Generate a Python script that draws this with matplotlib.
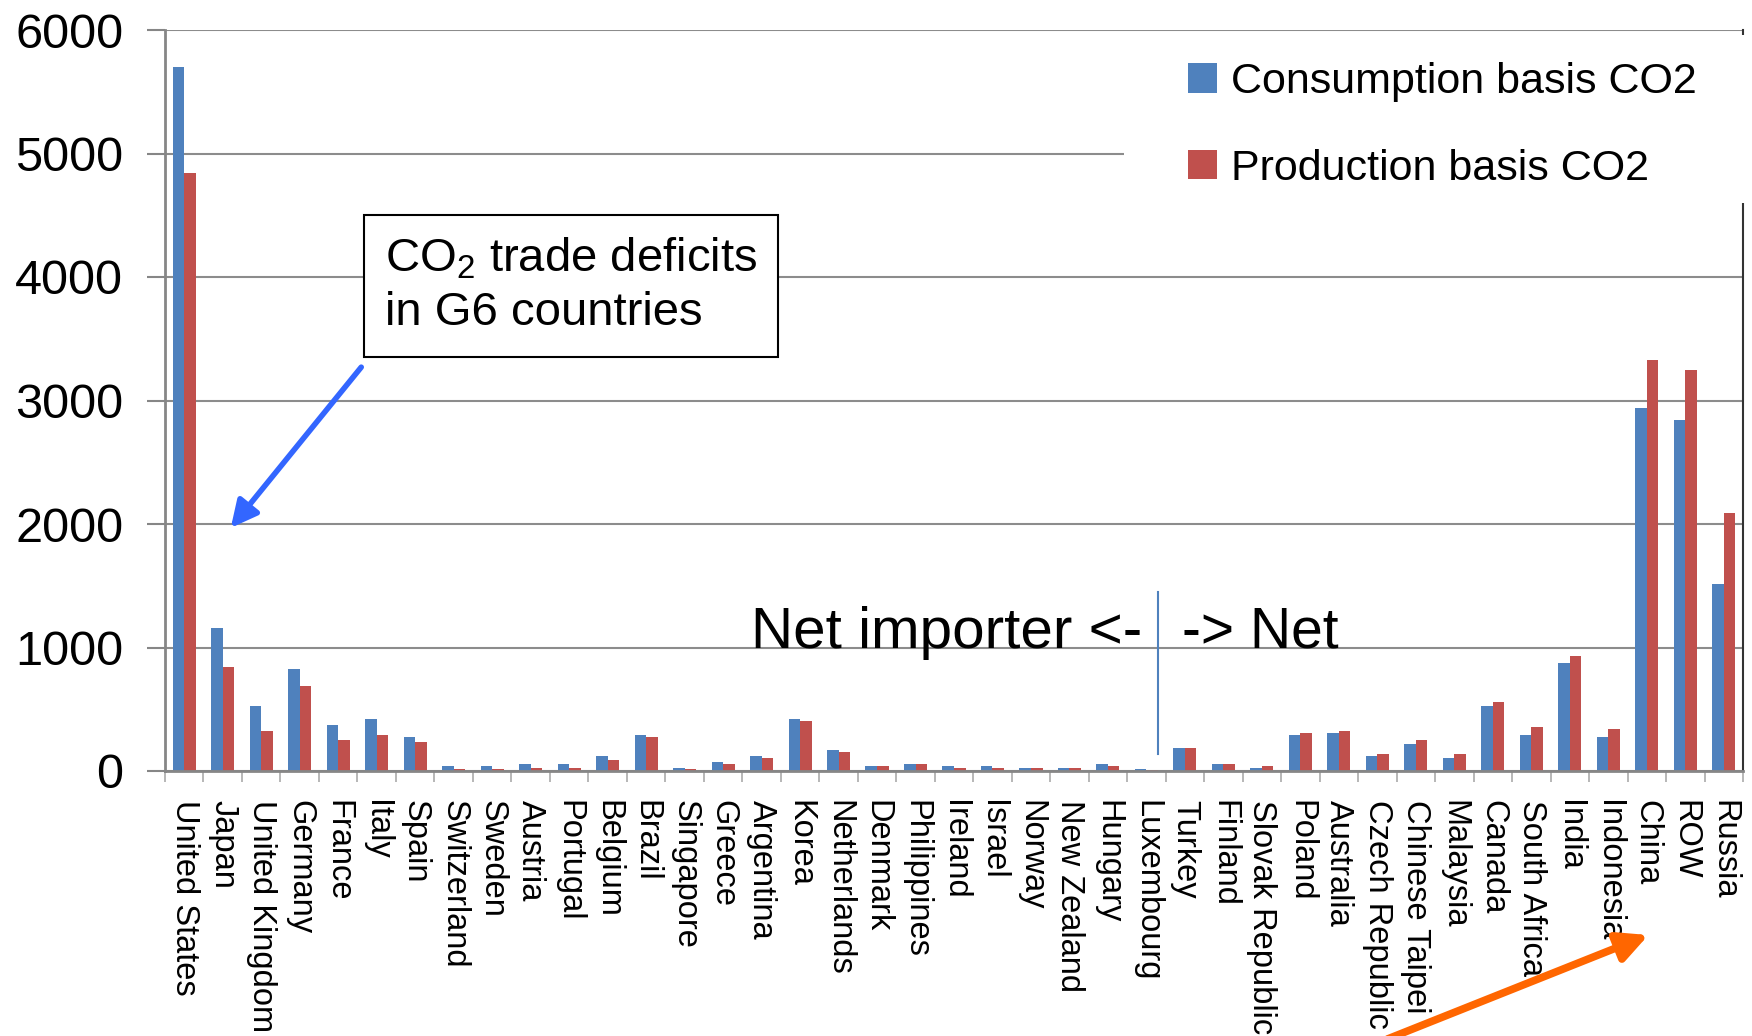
import numpy as np
import matplotlib.pyplot as plt
from matplotlib.patches import Rectangle

plt.rcParams['font.family'] = ['Liberation Sans', 'DejaVu Sans']
plt.rcParams['mathtext.default'] = 'regular'

countries = ['United States', 'Japan', 'United Kingdom', 'Germany', 'France', 'Italy',
             'Spain', 'Switzerland', 'Sweden', 'Austria', 'Portugal', 'Belgium', 'Brazil',
             'Singapore', 'Greece', 'Argentina', 'Korea', 'Netherlands', 'Denmark',
             'Philippines', 'Ireland', 'Israel', 'Norway', 'New Zealand', 'Hungary',
             'Luxembourg', 'Turkey', 'Finland', 'Slovak Republic', 'Poland', 'Australia',
             'Czech Republic', 'Chinese Taipei', 'Malaysia', 'Canada', 'South Africa',
             'India', 'Indonesia', 'China', 'ROW', 'Russia']

consumption = [5700, 1157, 524, 824, 370, 419, 273, 38, 38, 54, 54, 119, 289, 22, 70,
               119, 419, 168, 38, 54, 38, 38, 22, 22, 54, 14, 184, 54, 22, 289, 305,
               119, 216, 103, 524, 289, 873, 273, 2941, 2843, 1514]

production = [4842, 841, 322, 686, 249, 289, 232, 14, 14, 22, 22, 86, 273, 14, 54,
              103, 403, 151, 38, 54, 22, 22, 22, 22, 38, 5, 184, 54, 38, 305, 322,
              135, 249, 135, 557, 354, 930, 338, 3330, 3249, 2089]

yticks = [0, 1000, 2000, 3000, 4000, 5000, 6000]

blue = '#4F81BD'
red = '#C0504D'
grey = '#868686'

W, H = 1752, 1036
fig = plt.figure(figsize=(W / 100, H / 100), dpi=100)
ax = fig.add_axes([165 / W, 1 - 771 / H, 1578 / W, 741 / H])

x = np.arange(len(countries))
bw = 0.3
b1 = ax.bar(x - bw / 2, consumption, bw, color=blue, label='Consumption basis CO2', zorder=2)
b2 = ax.bar(x + bw / 2, production, bw, color=red, label='Production basis CO2', zorder=2)

ax.set_xlim(-0.5, len(countries) - 0.5)
ax.set_ylim(0, 6000)

# axes styling
ax.set_axisbelow(True)
ax.yaxis.grid(True, color='#8c8c8c', lw=1.5)
ax.spines['top'].set_visible(False)
ax.spines['left'].set_color(grey)
ax.spines['left'].set_linewidth(2)
ax.spines['bottom'].set_color(grey)
ax.spines['bottom'].set_linewidth(2)
ax.spines['right'].set_color('#333333')
ax.spines['right'].set_linewidth(1.5)

ax.set_yticks(yticks)
ax.tick_params(axis='y', length=13, width=1.5, color=grey, pad=17, labelsize=35)

ax.set_xticks(x)
ax.set_xticklabels(countries, rotation=-90, fontsize=23.5)
ax.set_xticks(np.arange(-0.5, len(countries), 1), minor=True)
ax.tick_params(axis='x', which='major', length=0, pad=21)
ax.tick_params(axis='x', which='minor', length=8, width=1.2, color='#aaaaaa')

# white area behind the legend
ax.add_patch(Rectangle((0.608, 0.766), 0.45, 0.227, transform=ax.transAxes,
                       facecolor='white', edgecolor='none', clip_on=False, zorder=3))
leg = ax.legend(handles=[b1, b2], loc='upper left', bbox_to_anchor=(0.678, 0.940),
                bbox_transform=fig.transFigure, frameon=False, fontsize=31,
                handlelength=0.68, handleheight=0.68, handletextpad=0.33,
                labelspacing=1.08, borderpad=0, borderaxespad=0)
leg.set_zorder(5)

# annotations
ax.text(0.1394, 0.655, 'CO$_2$ trade deficits\nin G6 countries', transform=ax.transAxes,
        fontsize=34, ha='left', va='center', linespacing=1.3, zorder=6,
        bbox=dict(boxstyle='square,pad=0.45', fc='white', ec='black', lw=1.5))

ax.annotate('', xy=(229 / W, 1 - 530 / H), xytext=(363 / W, 1 - 365 / H),
            xycoords='figure fraction', textcoords='figure fraction',
            arrowprops=dict(arrowstyle='-|>', color='#3366ff', lw=4, mutation_scale=40),
            annotation_clip=False)
ax.annotate('', xy=(1651 / W, 1 - 934 / H), xytext=(1385 / W, 1 - 1040 / H),
            xycoords='figure fraction', textcoords='figure fraction',
            arrowprops=dict(arrowstyle='-|>', color='#ff6600', lw=5.5, mutation_scale=45),
            annotation_clip=False)

ax.plot([25.3, 25.3], [140, 1450], color=blue, lw=1.5, zorder=4)
ax.text(24.88, 1000, 'Net importer <-', ha='right', va='baseline', fontsize=42, zorder=4)
ax.text(25.92, 1000, '-> Net', ha='left', va='baseline', fontsize=41, zorder=4)

fig.savefig('out.png', dpi=100)
